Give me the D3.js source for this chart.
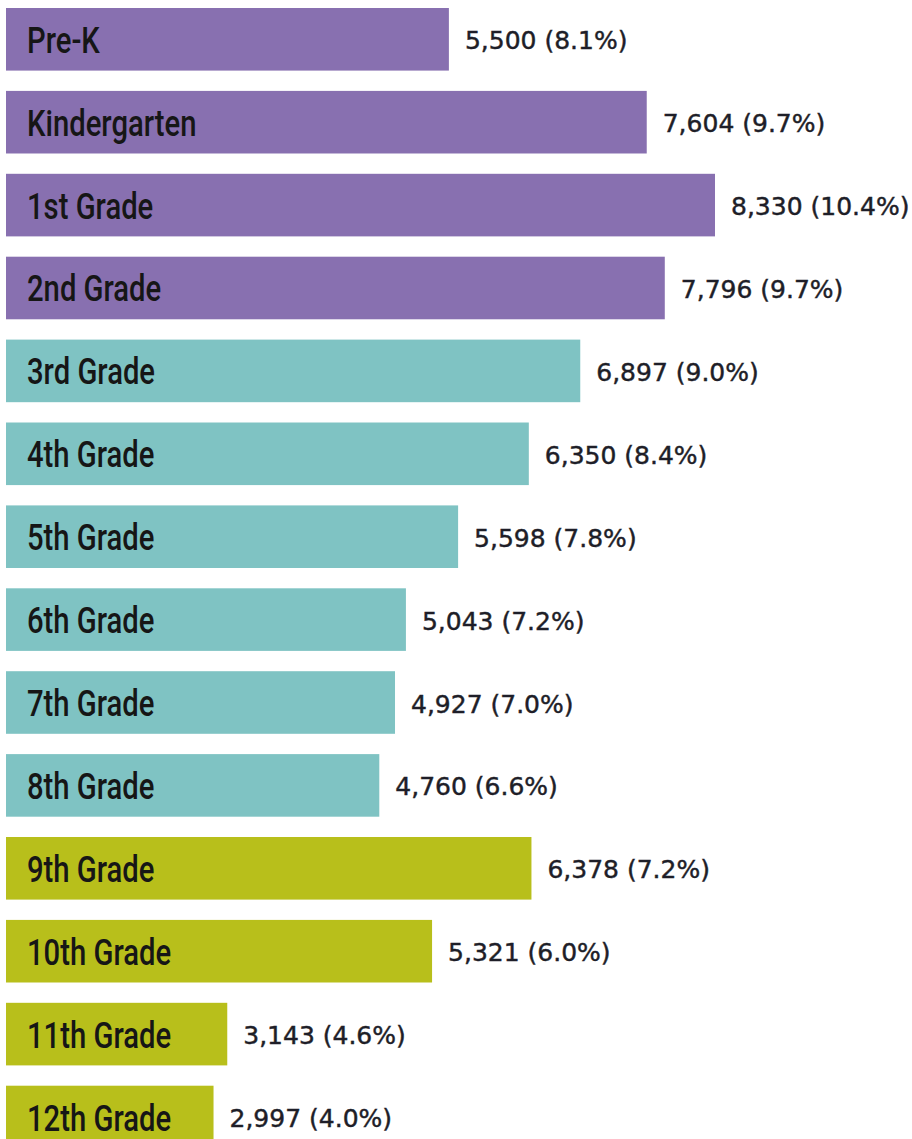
<!DOCTYPE html>
<html>
<head>
<meta charset="utf-8">
<script src="https://cdn.jsdelivr.net/npm/d3@7"></script>
<style>
  html, body { margin: 0; padding: 0; background: #ffffff; }
  svg { display: block; }
</style>
</head>
<body>
<div id="chart"></div>
<script>
const categories = ["Pre-K", "Kindergarten", "1st Grade", "2nd Grade", "3rd Grade", "4th Grade",
  "5th Grade", "6th Grade", "7th Grade", "8th Grade", "9th Grade", "10th Grade", "11th Grade", "12th Grade"];
const values = [5500, 7604, 8330, 7796, 6897, 6350, 5598, 5043, 4927, 4760, 6378, 5321, 3143, 2997];
const percents = [8.1, 9.7, 10.4, 9.7, 9.0, 8.4, 7.8, 7.2, 7.0, 6.6, 7.2, 6.0, 4.6, 4.0];
const groups = ["early", "early", "early", "early", "elem", "elem", "elem", "elem", "elem", "elem",
  "high", "high", "high", "high"];
const groupNames = ["early", "elem", "high"];
const groupColors = ["#8870b0", "#7fc3c3", "#b8bf1b"];

const W = 912, H = 1139;
const rows = categories.map((c, i) => ({ cat: c, value: values[i], pct: percents[i], group: groups[i] }));

const svg = d3.select("#chart").append("svg").attr("width", W).attr("height", H);
svg.append("rect").attr("width", W).attr("height", H).attr("fill", "#ffffff");

const x = d3.scaleLinear().domain([790, 8330]).range([6, 715]);
const y = d3.scaleBand().domain(categories).range([8, 1148.3]).paddingInner(0.245).paddingOuter(0);
const color = d3.scaleOrdinal().domain(groupNames).range(groupColors);
const fmt = d3.format(",");
const pfmt = d3.format(".1f");

const g = svg.selectAll("g.row").data(rows).join("g").attr("class", "row");

g.append("rect")
  .attr("x", x.range()[0])
  .attr("y", d => y(d.cat))
  .attr("width", d => x(d.value) - x.range()[0])
  .attr("height", y.bandwidth())
  .attr("fill", d => color(d.group));

g.append("text")
  .attr("transform", d => `translate(27,${y(d.cat) + y.bandwidth() / 2 + 13.5}) scale(0.78,1)`)
  .attr("font-family", "Roboto, 'Liberation Sans', sans-serif")
  .attr("font-weight", 500)
  .attr("font-size", 37.5)
  .attr("fill", "#161616")
  .text(d => d.cat);

g.append("text")
  .attr("x", d => x(d.value) + 16)
  .attr("y", d => y(d.cat) + y.bandwidth() / 2 + 10)
  .attr("font-family", "'DejaVu Sans', sans-serif")
  .attr("font-size", 25)
  .attr("fill", "#1e1e28")
  .attr("stroke", "#1e1e28")
  .attr("stroke-width", 0.45)
  .text(d => `${fmt(d.value)} (${pfmt(d.pct)}%)`);
</script>
</body>
</html>
